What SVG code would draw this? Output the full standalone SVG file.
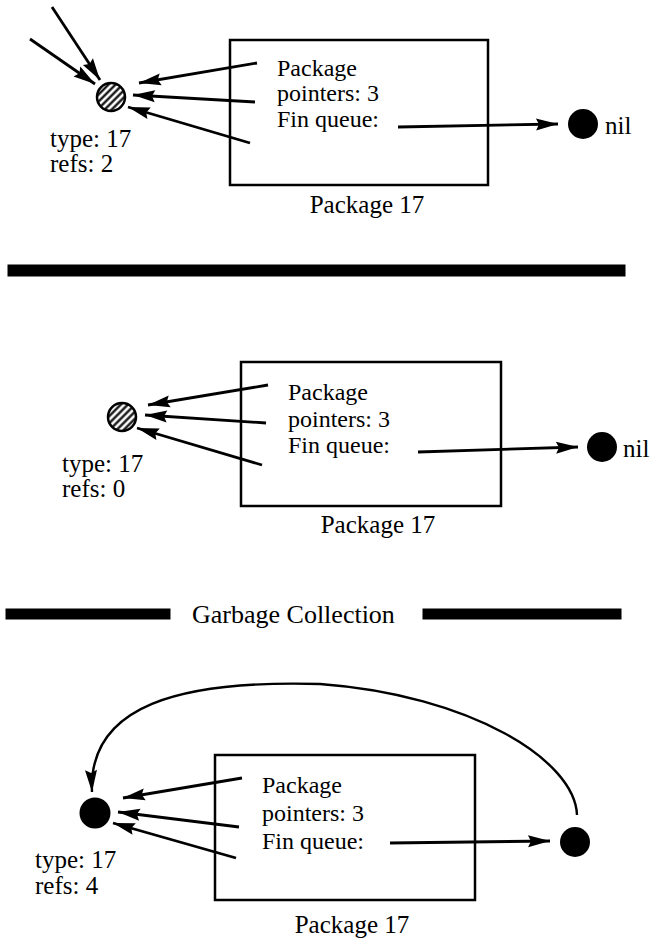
<svg xmlns="http://www.w3.org/2000/svg" width="654" height="942" viewBox="0 0 654 942">
<style>
text{font-family:"Liberation Serif","Times New Roman",serif;font-size:25px;fill:#000}
.in{font-size:24px}
.box{fill:none;stroke:#000;stroke-width:2.5}
.arr{fill:none;stroke:#000;stroke-width:2.8;marker-end:url(#ah)}
.arc{fill:none;stroke:#000;stroke-width:2.4;marker-end:url(#ah)}
.bar{stroke:#000;fill:#000}
.dot{fill:#000}
.hatch{fill:url(#hp);stroke:#000;stroke-width:2.5}
.mid{text-anchor:middle}
</style>
<defs>
<marker id="ah" markerUnits="userSpaceOnUse" markerWidth="24" markerHeight="14" refX="22" refY="6" orient="auto" overflow="visible">
<path d="M0,0 L22,6 L0,12 L3,6 z" fill="#000"/>
</marker>
<pattern id="hp" width="5" height="5" patternUnits="userSpaceOnUse" patternTransform="rotate(45)">
<rect width="5" height="5" fill="#fff"/>
<line x1="1.5" y1="0" x2="1.5" y2="5" stroke="#000" stroke-width="2.2"/>
</pattern>
</defs>

<!-- Panel 1 -->
<g id="p1-obj">
<circle class="hatch" cx="111" cy="97" r="14"/>
<text x="50" y="147">type: 17</text>
<text x="50" y="172">refs: 2</text>
</g>
<g id="p1-package">
<rect class="box" x="230" y="40" width="258" height="145"/>
<text class="in" x="277" y="76">Package</text>
<text class="in" x="277" y="101">pointers: 3</text>
<text class="in" x="277" y="127">Fin queue:</text>
<text class="mid" x="367" y="213">Package 17</text>
</g>
<g id="p1-nil">
<circle class="dot" cx="583" cy="124" r="15"/>
<text x="605" y="134">nil</text>
</g>
<g id="p1-connectors">
<line class="arr" x1="52" y1="7" x2="100" y2="80"/>
<line class="arr" x1="30" y1="39" x2="95" y2="84"/>
<line class="arr" x1="257" y1="63" x2="139" y2="83"/>
<line class="arr" x1="255" y1="102" x2="133" y2="95"/>
<line class="arr" x1="250" y1="143" x2="128" y2="107"/>
<line class="arr" x1="398" y1="127" x2="558" y2="124"/>
</g>

<g id="divider1">
<rect class="bar" x="8" y="265" width="617" height="11"/>
</g>

<!-- Panel 2 -->
<g id="p2-obj">
<circle class="hatch" cx="122" cy="417" r="14"/>
<text x="62" y="472">type: 17</text>
<text x="62" y="497">refs: 0</text>
</g>
<g id="p2-package">
<rect class="box" x="241" y="362" width="260" height="144"/>
<text class="in" x="288" y="400">Package</text>
<text class="in" x="288" y="427">pointers: 3</text>
<text class="in" x="288" y="453">Fin queue:</text>
<text class="mid" x="378" y="533">Package 17</text>
</g>
<g id="p2-nil">
<circle class="dot" cx="602" cy="447" r="15"/>
<text x="623" y="457">nil</text>
</g>
<g id="p2-connectors">
<line class="arr" x1="268" y1="385" x2="148" y2="405"/>
<line class="arr" x1="266" y1="423" x2="145" y2="415"/>
<line class="arr" x1="262" y1="465" x2="137" y2="428"/>
<line class="arr" x1="418" y1="452" x2="578" y2="447"/>
</g>

<g id="divider-gc">
<rect class="bar" x="6" y="609" width="164" height="10"/>
<text x="192" y="623" style="font-size:26px">Garbage Collection</text>
<rect class="bar" x="423" y="609" width="198" height="10"/>
</g>

<!-- Panel 3 -->
<g id="p3-obj">
<circle class="dot" cx="95" cy="813" r="15.5"/>
<text x="35" y="868">type: 17</text>
<text x="35" y="894">refs: 4</text>
</g>
<g id="p3-package">
<rect class="box" x="215" y="755" width="260" height="145"/>
<text class="in" x="262" y="793">Package</text>
<text class="in" x="262" y="821">pointers: 3</text>
<text class="in" x="262" y="849">Fin queue:</text>
<text class="mid" x="352" y="933">Package 17</text>
</g>
<g id="p3-queued">
<circle class="dot" cx="575" cy="842" r="15"/>
</g>
<g id="p3-connectors">
<line class="arr" x1="242" y1="778" x2="123" y2="798"/>
<line class="arr" x1="239" y1="827" x2="118" y2="812"/>
<line class="arr" x1="236" y1="858" x2="113" y2="823"/>
<line class="arr" x1="390" y1="843" x2="550" y2="841"/>
<path class="arc" d="M577,815 C575,760 470,695 320,684 C180,680 88,705 92,792"/>
</g>
</svg>
